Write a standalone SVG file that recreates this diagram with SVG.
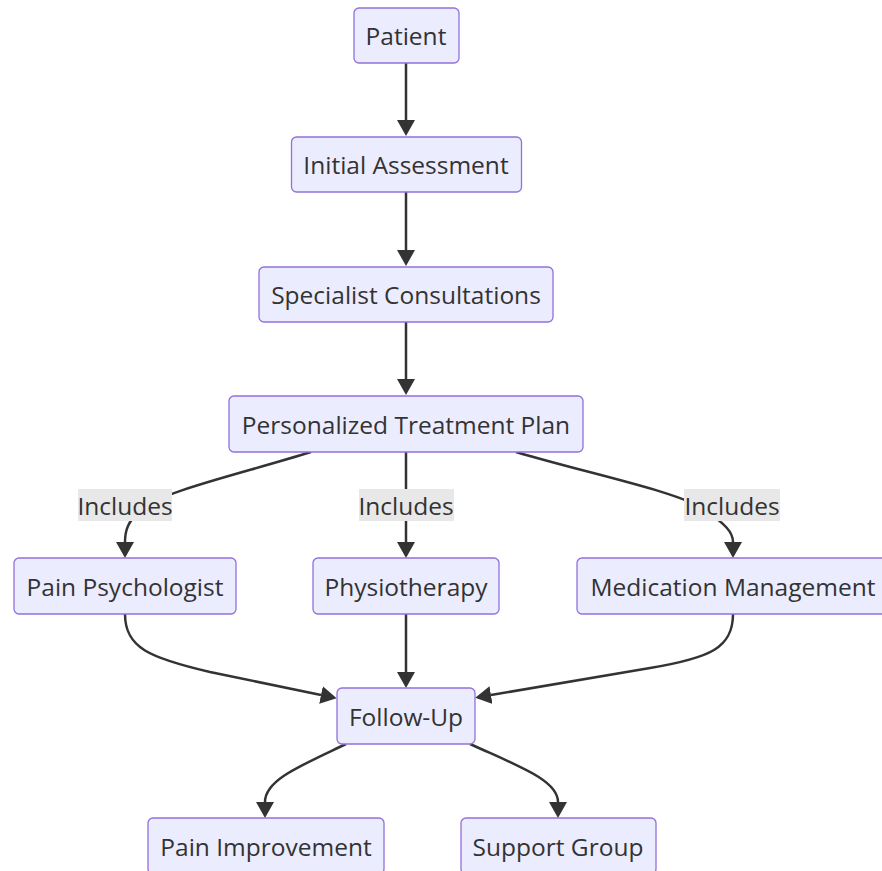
<svg xmlns="http://www.w3.org/2000/svg" width="882" height="871" viewBox="0 0 882 871">
<defs>
<style>
.node rect{fill:#ECECFF;stroke:#9370DB;stroke-width:1.3px;}
.node text,.lbl text{font-family:"Open Sans","Noto Sans","Liberation Sans",sans-serif;font-size:24.5px;fill:#333;text-anchor:middle;dominant-baseline:central;}
.edges path{fill:none;stroke:#333;stroke-width:2.5px;}
.lbl rect{fill:#e8e8e8;}
</style>
<marker id="arr" viewBox="0 0 16 18" refX="0" refY="9" markerWidth="16" markerHeight="18" markerUnits="userSpaceOnUse" orient="auto">
<path d="M0,0 L16,9 L0,18 z" fill="#333"/>
</marker>
</defs>
<rect width="882" height="871" fill="#ffffff"/>
<g class="edges">
<path d="M406,63 L406,120" marker-end="url(#arr)"/>
<path d="M406,192 L406,250" marker-end="url(#arr)"/>
<path d="M406,322 L406,379" marker-end="url(#arr)"/>
<path d="M406,452 L406,542" marker-end="url(#arr)"/>
<path d="M311,452 C240,474 160,492 140,510 C128,522 125,530 125,542" marker-end="url(#arr)"/>
<path d="M516,452 C590,474 680,492 705,510 C725,524 733,532 733,542" marker-end="url(#arr)"/>
<path d="M406,614 L406,672" marker-end="url(#arr)"/>
<path d="M125,614 C125,648 150,658 210,672 L321,695" marker-end="url(#arr)"/>
<path d="M733,614 C733,648 710,658 650,668 L491,695" marker-end="url(#arr)"/>
<path d="M346,744 C300,766 265,780 265,802" marker-end="url(#arr)"/>
<path d="M470,744 C518,766 558,780 558,802" marker-end="url(#arr)"/>
</g>
<g class="lbl" id="lbl1"><rect x="78" y="489" width="94" height="32"/><text x="125" y="505">Includes</text></g>
<g class="lbl" id="lbl2"><rect x="359" y="489" width="95" height="32"/><text x="406" y="505">Includes</text></g>
<g class="lbl" id="lbl3"><rect x="684" y="489" width="96" height="32"/><text x="732" y="505">Includes</text></g>
<g class="node" id="patient"><rect x="354" y="8" width="105" height="55" rx="5"/><text x="406" y="35.5">Patient</text></g>
<g class="node" id="initial"><rect x="291.5" y="137" width="230" height="55" rx="5"/><text x="406" y="164.5">Initial Assessment</text></g>
<g class="node" id="specialist"><rect x="259" y="267" width="294" height="55" rx="5"/><text x="406" y="294.5">Specialist Consultations</text></g>
<g class="node" id="plan"><rect x="229" y="396" width="354" height="56" rx="5"/><text x="406" y="424">Personalized Treatment Plan</text></g>
<g class="node" id="psych"><rect x="14" y="558" width="222" height="56" rx="5"/><text x="125" y="586">Pain Psychologist</text></g>
<g class="node" id="physio"><rect x="313" y="558" width="186" height="56" rx="5"/><text x="406" y="586">Physiotherapy</text></g>
<g class="node" id="med"><rect x="577" y="558" width="312" height="56" rx="5"/><text x="733" y="586">Medication Management</text></g>
<g class="node" id="follow"><rect x="337" y="688" width="138" height="56" rx="5"/><text x="406" y="716">Follow-Up</text></g>
<g class="node" id="improve"><rect x="148" y="818" width="236" height="56" rx="5"/><text x="266" y="846">Pain Improvement</text></g>
<g class="node" id="support"><rect x="461" y="818" width="195" height="56" rx="5"/><text x="558" y="846">Support Group</text></g>
</svg>
